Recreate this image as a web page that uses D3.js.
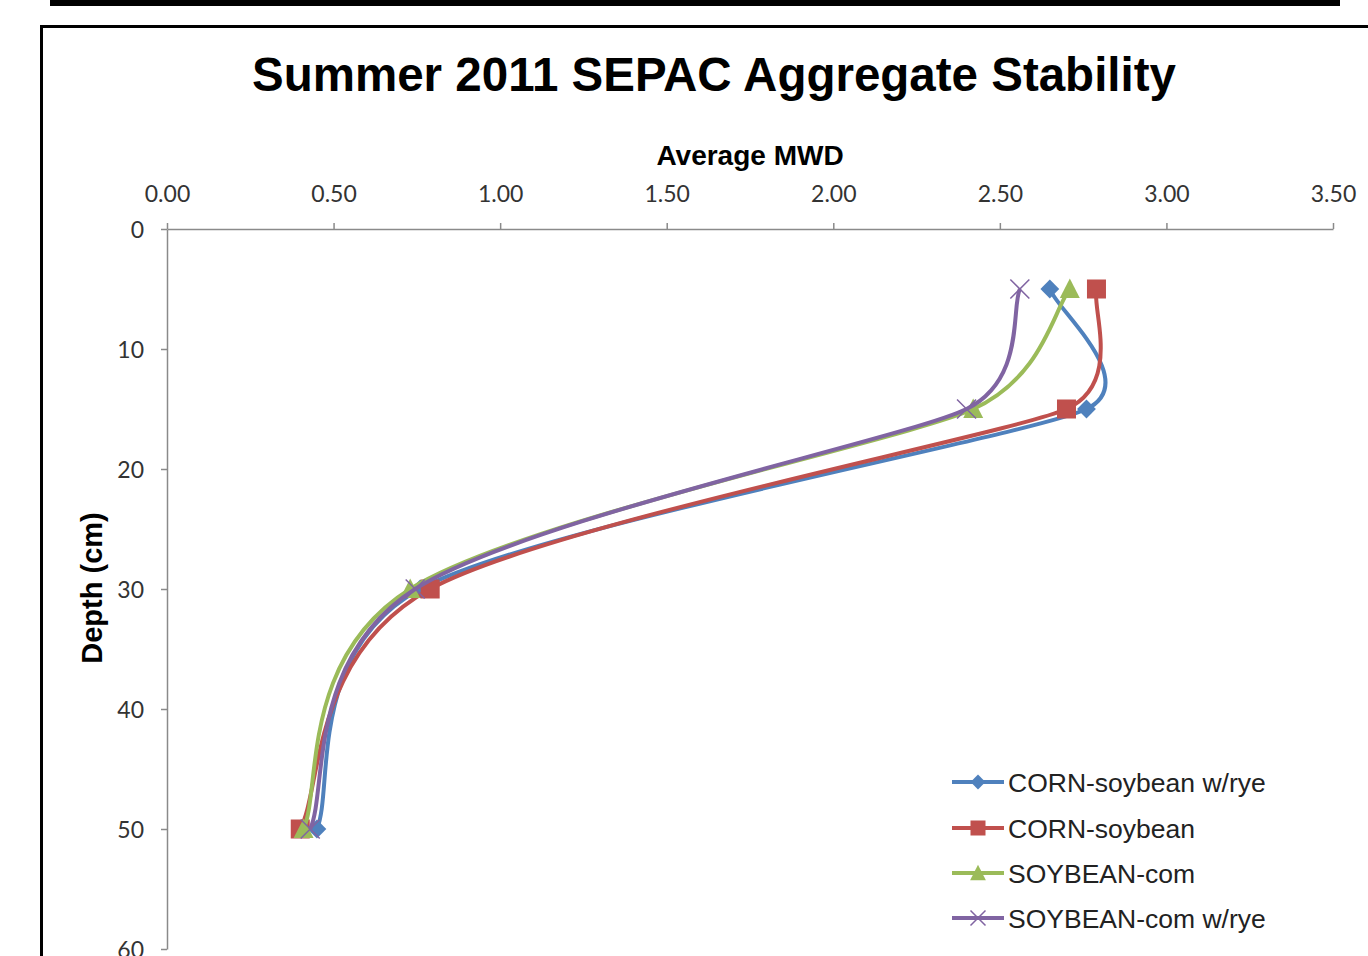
<!DOCTYPE html>
<html><head><meta charset="utf-8">
<script src="https://cdn.jsdelivr.net/npm/d3@7"></script>
<style>body{margin:0;background:#fff;}svg{display:block;}</style>
</head><body>
<svg id="c" width="1368" height="956"></svg>
<script>
const depths = [5, 15, 30, 50];
const seriesNames = ["CORN-soybean w/rye", "CORN-soybean", "SOYBEAN-corn", "SOYBEAN-corn w/rye"];
const legendLabels = ["CORN-soybean w/rye", "CORN-soybean", "SOYBEAN-com", "SOYBEAN-com w/rye"];
const cornSoyRye = [2.65, 2.76, 0.76, 0.45];
const cornSoy = [2.79, 2.70, 0.79, 0.40];
const soyCorn = [2.71, 2.42, 0.73, 0.41];
const soyCornRye = [2.56, 2.40, 0.745, 0.43];
const xTicks = [0, 0.5, 1, 1.5, 2, 2.5, 3, 3.5];
const yTicks = [0, 10, 20, 30, 40, 50, 60];
const colors = ["#4F81BD", "#C0504D", "#9BBB59", "#8064A2"];
const markers = ["diamond", "square", "triangle", "x"];
const allSeries = [cornSoyRye, cornSoy, soyCorn, soyCornRye];

const svg = d3.select("#c");
// top black bar
svg.append("rect").attr("x", 50).attr("y", 0).attr("width", 1290).attr("height", 6).attr("fill", "#000");
// chart frame
svg.append("rect").attr("x", 41.5).attr("y", 26.5).attr("width", 1340).attr("height", 960)
  .attr("fill", "#fff").attr("stroke", "#000").attr("stroke-width", 3);

const x = d3.scaleLinear().domain([0, 3.5]).range([167, 1333]);
const y = d3.scaleLinear().domain([0, 60]).range([229, 949]);

const tickFont = "Lato, 'Open Sans', sans-serif";
const xAxis = svg.append("g").attr("transform", "translate(0,229)")
  .call(d3.axisTop(x).tickValues(xTicks).tickFormat(d3.format(".2f")).tickSizeOuter(0).tickSizeInner(6).tickPadding(21));
const yAxis = svg.append("g").attr("transform", "translate(167,0)")
  .call(d3.axisLeft(y).tickValues(yTicks).tickFormat(d3.format("d")).tickSizeOuter(0).tickSizeInner(6).tickPadding(17));
[xAxis, yAxis].forEach(g => {
  g.select(".domain").attr("stroke", "#8a8a8a").attr("stroke-width", 1.5);
  g.selectAll(".tick line").attr("stroke", "#8a8a8a").attr("stroke-width", 1.5);
  g.selectAll(".tick text").attr("fill", "#333").style("font-family", tickFont).style("font-size", "23px");
});
yAxis.selectAll(".tick text").attr("dy", "0.35em");

// titles
svg.append("text").attr("x", 714).attr("y", 91).attr("text-anchor", "middle")
  .style("font-family", "'Liberation Sans', Arial, sans-serif").style("font-weight", "bold").style("font-size", "47.5px")
  .text("Summer 2011 SEPAC Aggregate Stability");
svg.append("text").attr("x", 750).attr("y", 165).attr("text-anchor", "middle")
  .style("font-family", "'Liberation Sans', Arial, sans-serif").style("font-weight", "bold").style("font-size", "28px")
  .text("Average MWD");
svg.append("text").attr("transform", "translate(102,588) rotate(-90)").attr("text-anchor", "middle")
  .style("font-family", "'Liberation Sans', Arial, sans-serif").style("font-weight", "bold").style("font-size", "29px")
  .text("Depth (cm)");

// Excel-style smoothed line: Bezier with control arms of |P(i+1)-P(i-1)|/6, clamped to half of adjacent segments
function smoothPath(pts) {
  const n = pts.length, p = d3.path();
  const dist = (a, b) => Math.hypot(b[0] - a[0], b[1] - a[1]);
  const tang = pts.map((pt, i) => {
    const a = pts[Math.max(0, i - 1)], b = pts[Math.min(n - 1, i + 1)];
    const tx = b[0] - a[0], ty = b[1] - a[1], L = Math.hypot(tx, ty) || 1;
    let arm = L / 6;
    if (i > 0) arm = Math.min(arm, dist(pts[i - 1], pt) / 2);
    if (i < n - 1) arm = Math.min(arm, dist(pt, pts[i + 1]) / 2);
    return [tx / L * arm, ty / L * arm];
  });
  p.moveTo(pts[0][0], pts[0][1]);
  for (let i = 0; i < n - 1; i++) {
    const a = pts[i], b = pts[i + 1];
    p.bezierCurveTo(a[0] + tang[i][0], a[1] + tang[i][1], b[0] - tang[i + 1][0], b[1] - tang[i + 1][1], b[0], b[1]);
  }
  return p.toString();
}

function drawMarker(g, type, cx, cy, color, s) {
  if (type === "diamond") {
    g.append("rect").attr("x", cx - s*0.7).attr("y", cy - s*0.7).attr("width", s*1.4).attr("height", s*1.4)
      .attr("transform", `rotate(45,${cx},${cy})`).attr("fill", color);
  } else if (type === "square") {
    g.append("rect").attr("x", cx - s).attr("y", cy - s).attr("width", 2*s).attr("height", 2*s).attr("fill", color);
  } else if (type === "triangle") {
    g.append("path").attr("d", `M${cx},${cy - s*1.1}L${cx + s*1.05},${cy + s*0.95}L${cx - s*1.05},${cy + s*0.95}Z`).attr("fill", color);
  } else {
    g.append("path").attr("d", `M${cx - s},${cy - s}L${cx + s},${cy + s}M${cx - s},${cy + s}L${cx + s},${cy - s}`)
      .attr("stroke", color).attr("stroke-width", 1.5).attr("fill", "none");
  }
}

allSeries.forEach((vals, i) => {
  const pts = vals.map((v, j) => [x(v), y(depths[j])]);
  const g = svg.append("g");
  g.append("path").attr("d", smoothPath(pts)).attr("fill", "none").attr("stroke", colors[i]).attr("stroke-width", 4);
  pts.forEach(p => drawMarker(g, markers[i], p[0], p[1], colors[i], 9.5));
});

// legend
const legY = [782, 828, 873, 918];
legendLabels.forEach((lab, i) => {
  const g = svg.append("g");
  g.append("line").attr("x1", 952).attr("x2", 1004).attr("y1", legY[i]).attr("y2", legY[i])
    .attr("stroke", colors[i]).attr("stroke-width", 4);
  drawMarker(g, markers[i], 978, legY[i], colors[i], 7.5);
  g.append("text").attr("x", 1008).attr("y", legY[i]).attr("dy", "0.36em")
    .style("font-family", "'Liberation Sans', Arial, sans-serif").style("font-size", "26.5px").attr("fill", "#222")
    .text(lab);
});
</script>
</body></html>
